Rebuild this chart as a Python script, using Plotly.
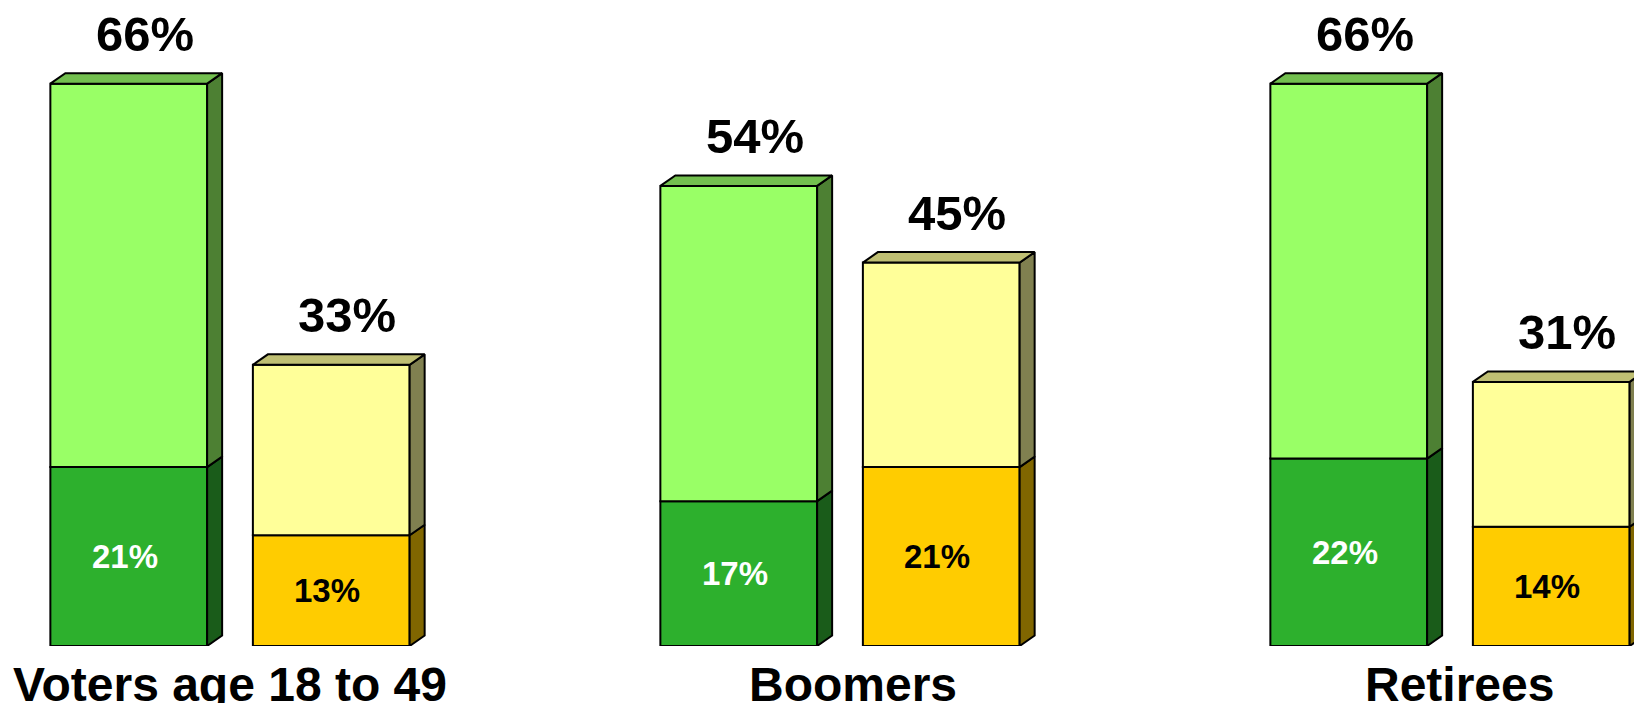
import plotly.graph_objects as go

categories = ["Voters age 18 to 49", "Boomers", "Retirees"]
green_total = [66, 54, 66]
green_bottom = [21, 17, 22]
yellow_total = [33, 45, 31]
yellow_bottom = [13, 21, 14]

FONT = "Liberation Sans, Arial, sans-serif"
W, H = 1634, 703
MB = 57
PX_PER_UNIT = 8.52
GROUP_PX = 610.0
X0 = -230 / GROUP_PX
X1 = X0 + W / GROUP_PX
Y1 = (H - MB) / PX_PER_UNIT

OFF = 0.166
BW = 0.257
DX = 15 / GROUP_PX
DY = 10.5 / PX_PER_UNIT

C = {
    "g_light": "#99FF66", "g_dark": "#2DB02D",
    "g_side_l": "#4D8033", "g_side_d": "#1A5C1A", "g_top": "#73BF4F",
    "y_light": "#FFFF99", "y_dark": "#FFCC00",
    "y_side_l": "#808050", "y_side_d": "#806600", "y_top": "#BFBF73",
}

idx = list(range(len(categories)))
xg = [i - OFF for i in idx]
xy = [i + OFF for i in idx]

fig = go.Figure()

def add_series(xs, bottoms, totals, dark, light, side_d, side_l, top, textcol):
    fig.add_trace(go.Bar(
        x=xs, y=bottoms, width=BW, marker=dict(color=dark, line=dict(color="black", width=2)),
        hoverinfo="skip", showlegend=False))
    fig.add_trace(go.Bar(
        x=xs, y=[t - b for t, b in zip(totals, bottoms)], base=bottoms, width=BW,
        marker=dict(color=light, line=dict(color="black", width=2)),
        hoverinfo="skip", showlegend=False))
    for x, b, t in zip(xs, bottoms, totals):
        xl, xr = x - BW / 2, x + BW / 2
        polys = [
            ([xr, xr + DX, xr + DX, xr, xr], [0, DY, b + DY, b, 0], side_d),
            ([xr, xr + DX, xr + DX, xr, xr], [b, b + DY, t + DY, t, b], side_l),
            ([xl, xl + DX, xr + DX, xr, xl], [t, t + DY, t + DY, t, t], top),
        ]
        for px, py, col in polys:
            fig.add_trace(go.Scatter(
                x=px, y=py, mode="lines", fill="toself", fillcolor=col,
                line=dict(color="black", width=2), hoverinfo="skip", showlegend=False))
        fig.add_annotation(x=x, y=t, text=f"{t}%", showarrow=False, xanchor="center",
                           yanchor="middle", yshift=50, xshift=16,
                           font=dict(family=FONT, size=49, color="black", weight="bold"))
        fig.add_annotation(x=x, y=b / 2, text=f"{b}%", showarrow=False, xanchor="center",
                           yanchor="middle", xshift=-4,
                           font=dict(family=FONT, size=33, color=textcol, weight="bold"))

add_series(xg, green_bottom, green_total, C["g_dark"], C["g_light"],
           C["g_side_d"], C["g_side_l"], C["g_top"], "white")
add_series(xy, yellow_bottom, yellow_total, C["y_dark"], C["y_light"],
           C["y_side_d"], C["y_side_l"], C["y_top"], "black")

label_shift = [0.0, 0.022, 0.016]
for i, cat in enumerate(categories):
    fig.add_annotation(x=i + label_shift[i], y=0, yref="paper", text=cat, showarrow=False,
                       xanchor="center", yanchor="middle", yshift=-38,
                       font=dict(family=FONT, size=48, color="black", weight="bold"))

fig.update_layout(
    width=W, height=H, barmode="overlay",
    margin=dict(l=0, r=0, t=0, b=MB),
    paper_bgcolor="white", plot_bgcolor="white",
    xaxis=dict(range=[X0, X1], visible=False, fixedrange=True),
    yaxis=dict(range=[0, Y1], visible=False, fixedrange=True),
    showlegend=False,
)

fig.write_html("out.html", config={"displayModeBar": False},
               post_script="document.body.style.margin='0px';document.body.style.overflow='hidden';")
